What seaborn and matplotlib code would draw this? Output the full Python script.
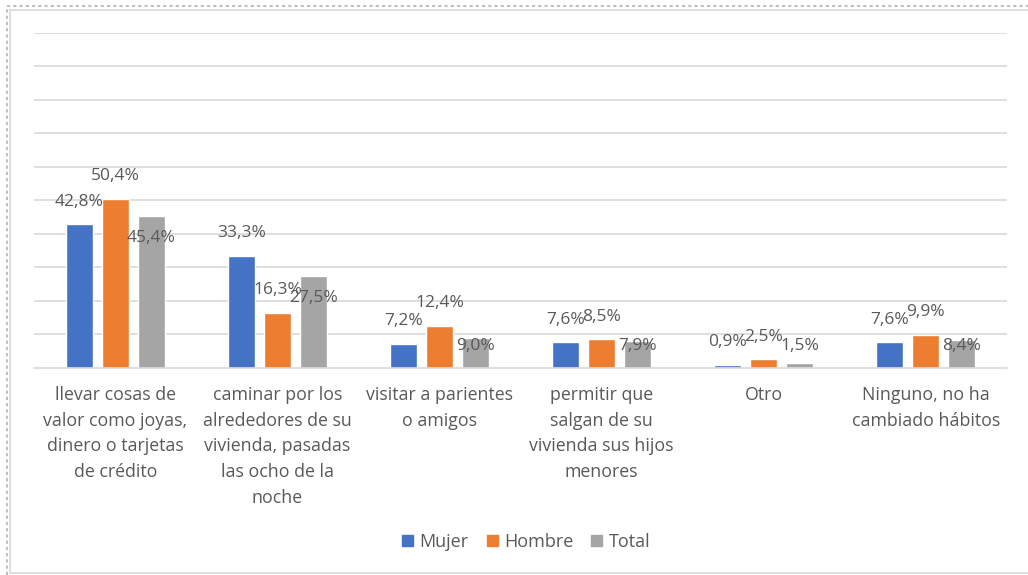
import matplotlib
matplotlib.use("Agg")
import matplotlib.pyplot as plt
from matplotlib.lines import Line2D
import seaborn as sns
import pandas as pd

categorias = [
    "llevar cosas de\nvalor como joyas,\ndinero o tarjetas\nde crédito",
    "caminar por los\nalrededores de su\nvivienda, pasadas\nlas ocho de la\nnoche",
    "visitar a parientes\no amigos",
    "permitir que\nsalgan de su\nvivienda sus hijos\nmenores",
    "Otro",
    "Ninguno, no ha\ncambiado hábitos",
]
series = ["Mujer", "Hombre", "Total"]
mujer = [42.8, 33.3, 7.2, 7.6, 0.9, 7.6]
hombre = [50.4, 16.3, 12.4, 8.5, 2.5, 9.9]
total = [45.4, 27.5, 9.0, 7.9, 1.5, 8.4]
colores = ["#4472C4", "#ED7D31", "#A5A5A5"]

valores = {"Mujer": mujer, "Hombre": hombre, "Total": total}
df = pd.DataFrame(
    [(c, s, v) for s in series for c, v in zip(categorias, valores[s])],
    columns=["categoria", "serie", "valor"],
)

sns.set_theme(style="white")
plt.rcParams["font.family"] = ["Open Sans", "DejaVu Sans"]
texto = "#595959"

fig = plt.figure(figsize=(10.28, 5.75), dpi=100)
ax = fig.add_axes([0.0334, 0.3605, 0.9459, 0.5821])

sns.barplot(
    data=df, x="categoria", y="valor", hue="serie", order=categorias,
    hue_order=series, palette=colores, width=0.663, gap=0.25,
    saturation=1, ax=ax, legend=False,
)

ax.set_xlim(-0.5, len(categorias) - 0.5)
ax.set_ylim(0, 100)
ax.set_yticks(range(10, 101, 10))
ax.yaxis.grid(True, color="#D9D9D9", linewidth=1.2)
ax.set_axisbelow(True)
ax.tick_params(axis="y", left=False, labelleft=False)
ax.tick_params(axis="x", bottom=False, pad=7, labelsize=12.8, labelcolor=texto)
for lbl in ax.get_xticklabels():
    lbl.set_linespacing(1.56)
    lbl.set_verticalalignment("top")
ax.set_xlabel("")
ax.set_ylabel("")
for side in ["left", "right", "top"]:
    ax.spines[side].set_visible(False)
ax.spines["bottom"].set_color("#D9D9D9")
ax.spines["bottom"].set_linewidth(1.2)

# Data labels: first two series above the bar end, total just inside the end
for serie, cont in zip(series, ax.containers):
    for bar, v in zip(cont, valores[serie]):
        cx = bar.get_x() + bar.get_width() / 2
        if serie == "Total":
            y = max(v - 6.6, 6.6)
        else:
            y = v + 6.8
        ax.text(cx, y, f"{v:.1f}%".replace(".", ","), ha="center",
                va="center", fontsize=12.5, color=texto)

handles = [plt.Rectangle((0, 0), 1, 1, color=c) for c in colores]
fig.legend(handles, series, loc="center", bbox_to_anchor=(0.512, 0.058),
           ncol=3, frameon=False, handlelength=0.6, handleheight=0.6,
           handletextpad=0.35, columnspacing=1.0,
           prop={"size": 13}, labelcolor=texto)

# Chart area frame
fig.add_artist(Line2D([0.0065, 1.0], [0.990, 0.990], color="#BFBFBF",
                      linestyle=(0, (1.5, 1.5)), linewidth=1.5))
fig.add_artist(Line2D([0.0065, 0.0065], [0.0, 0.990], color="#BFBFBF",
                      linestyle=(0, (1.5, 1.5)), linewidth=1.5))
fig.add_artist(Line2D([0.0097, 1.0], [0.983, 0.983], color="#D9D9D9", linewidth=1.2))
fig.add_artist(Line2D([0.0097, 0.0097], [0.003, 0.983], color="#D9D9D9", linewidth=1.2))
fig.add_artist(Line2D([0.0097, 1.0], [0.003, 0.003], color="#D9D9D9", linewidth=1.2))

fig.savefig("out.png", dpi=100, facecolor="white")
